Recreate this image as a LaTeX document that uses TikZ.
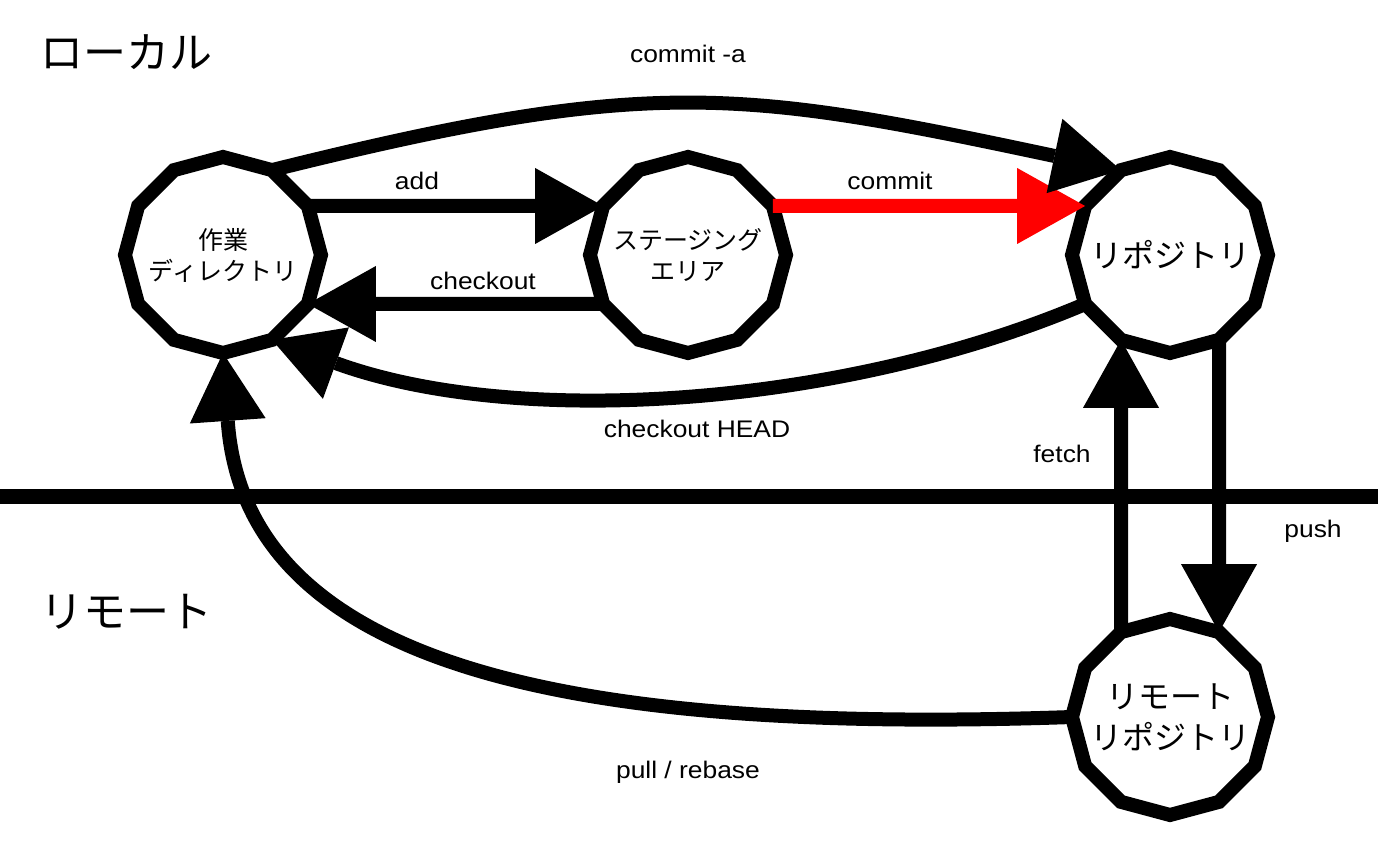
\documentclass[tikz,border=0pt]{standalone}
\usepackage{fontspec}
\newfontfamily\jp{Noto Sans CJK JP}
\newfontfamily\lab[FakeStretch=1.1]{Liberation Sans}
\usetikzlibrary{shapes.geometric,arrows.meta}
\tikzset{
  poly/.style={draw, line width=14pt, regular polygon, regular polygon sides=12,
    regular polygon rotate=15, minimum size=196pt, inner sep=-30pt, outer sep=0pt,
    align=center},
  smalljp/.style={font=\jp\fontsize{25pt}{31pt}\selectfont},
  bigjp/.style={font=\jp\fontsize{32pt}{41pt}\selectfont},
  headjp/.style={font=\jp\fontsize{43pt}{50pt}\selectfont, inner sep=0pt},
  lbl/.style={font=\lab\fontsize{24pt}{28pt}\selectfont, anchor=base, inner sep=0pt},
  conn/.style={line width=14pt, -{Triangle[length=68pt,width=76pt,line width=0pt]}},
  sepline/.style={line width=15pt}
}
\begin{document}
\begin{tikzpicture}[x=1pt,y=1pt]
\fill[white] (0,0) rectangle (1378,851);
\useasboundingbox (0,0) rectangle (1378,851);

% separator
\coordinate (L) at (0,354);
\coordinate (R) at (1378,354);
\draw[sepline] (L) -- (R);

% section titles
\node[headjp] (local) at (126.5,799) {ローカル};
\node[headjp] (remote) at (126.5,239) {リモート};

% nodes
\node[poly, smalljp] (wd) at (223,596) {作業\\ディレクトリ};
\node[poly, smalljp] (st) at (688,596) {ステージング\\エリア};
\node[poly, bigjp] (repo) at (1170,596) {リポジトリ};
\node[poly, bigjp] (rr) at (1170,134) {リモート\\リポジトリ};

% connectors
\draw[conn] (wd.30) -- (st.150);
\draw[conn, red] (st.30) -- (repo.150);
\draw[conn] (st.210) -- (wd.-30);
\draw[conn] (wd.60) to[out=14, in=168, distance=390pt] (repo.120);
\draw[conn] (repo.-150) to[out=203, in=-20, distance=262pt] (wd.-60);
\draw[conn] (rr.120) -- (repo.-120);
\draw[conn] (repo.-60) -- (rr.60);
\draw[conn] (rr.180) to[out=182, in=-86, out distance=500pt, in distance=315pt] (wd.-90);

% labels
\node[lbl] (lcommita) at (688,788) {commit -a};
\node[lbl] (ladd) at (417,661) {add};
\node[lbl] (lcommit) at (890,661) {commit};
\node[lbl] (lcheckout) at (483,561) {checkout};
\node[lbl] (lhead) at (697,413) {checkout HEAD};
\node[lbl] (lfetch) at (1062,388) {fetch};
\node[lbl] (lpush) at (1313,313) {push};
\node[lbl] (lpull) at (688,72) {pull / rebase};
\end{tikzpicture}
\end{document}
